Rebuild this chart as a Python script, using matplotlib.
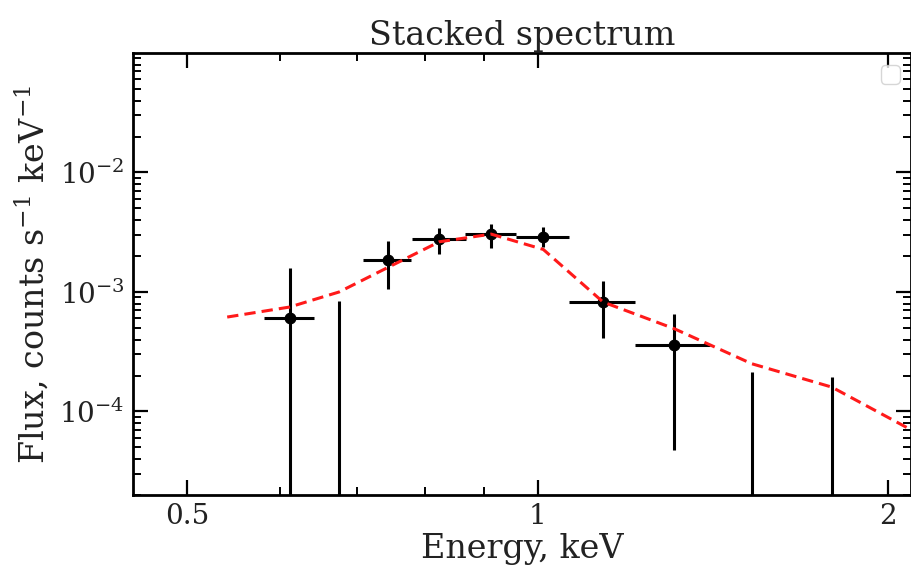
import matplotlib
matplotlib.use("Agg")
import matplotlib.pyplot as plt
from matplotlib.ticker import FixedLocator, NullFormatter

plt.rcParams['font.family'] = ['DejaVu Serif']
plt.rcParams['mathtext.fontset'] = 'dejavuserif'

# Data points (stacked spectrum)
energy = [0.612, 0.675, 0.743, 0.823, 0.912, 1.011, 1.138, 1.310, 1.527, 1.789]
energy_halfwidth = [0.0307, 0.0325, 0.0357, 0.044, 0.0452, 0.0533, 0.0743, 0.0973, 0.120, 0.142]
flux = [6.1e-4, 0.0, 1.87e-3, 2.77e-3, 3.03e-3, 2.89e-3, 8.24e-4, 3.62e-4, 0.0, 0.0]
flux_err_lo = [9.8e-4, 8.35e-4, 8.1e-4, 7.0e-4, 6.9e-4, 5.1e-4, 4.13e-4, 3.14e-4, 2.13e-4, 1.96e-4]
flux_err_hi = [9.8e-4, 8.35e-4, 8.1e-4, 6.3e-4, 6.7e-4, 6.2e-4, 4.13e-4, 2.97e-4, 2.13e-4, 1.96e-4]

# Model curve
model_energy = [0.541, 0.612, 0.675, 0.743, 0.823, 0.912, 1.011, 1.138, 1.310, 1.527, 1.789, 2.1]
model_flux = [6.17e-4, 7.48e-4, 1.0e-3, 1.60e-3, 2.63e-3, 3.05e-3, 2.27e-3, 8.24e-4, 4.93e-4, 2.51e-4, 1.60e-4, 6.9e-5]

x_ticks = [0.5, 1, 2]
x_tick_labels = ['0.5', '1', '2']
y_ticks = [1e-4, 1e-3, 1e-2]

fig = plt.figure(figsize=(9.12, 5.66), dpi=100)
ax = fig.add_axes([0.1458, 0.1254, 0.8535, 0.781])

ax.set_xscale('log')
ax.set_yscale('log')

ax.errorbar(energy, flux, xerr=energy_halfwidth, yerr=[flux_err_lo, flux_err_hi],
            fmt='o', color='black', ms=7.5, elinewidth=2.2, capsize=0, zorder=3)
ax.plot(model_energy, model_flux, '--', color='#ff1a1a', lw=2.2, dashes=(3.7, 2.0), zorder=4)

ax.set_xlim(0.449, 2.094)
ax.set_ylim(2e-5, 0.1)

ax.xaxis.set_major_locator(FixedLocator(x_ticks))
ax.set_xticklabels(x_tick_labels)
ax.xaxis.set_minor_formatter(NullFormatter())
ax.yaxis.set_major_locator(FixedLocator(y_ticks))

ax.tick_params(which='both', direction='in', top=True, right=True, labelsize=20,
               colors='black', labelcolor='#222222')
ax.tick_params(which='major', length=11, width=1.6, pad=6)
ax.tick_params(which='minor', length=6, width=1.4)
for s in ax.spines.values():
    s.set_linewidth(2.0)

ax.set_xlabel('Energy, keV', fontsize=24, labelpad=2, color='#222222')
ax.set_ylabel(r'Flux, counts s$^{-1}$ keV$^{-1}$', fontsize=24, labelpad=6, color='#222222')
ax.set_title('Stacked spectrum', fontsize=24, pad=6, color='#222222')

ax.legend(handles=[], labels=[], loc='upper right', fontsize=17)

fig.savefig('out.png', dpi=100)
